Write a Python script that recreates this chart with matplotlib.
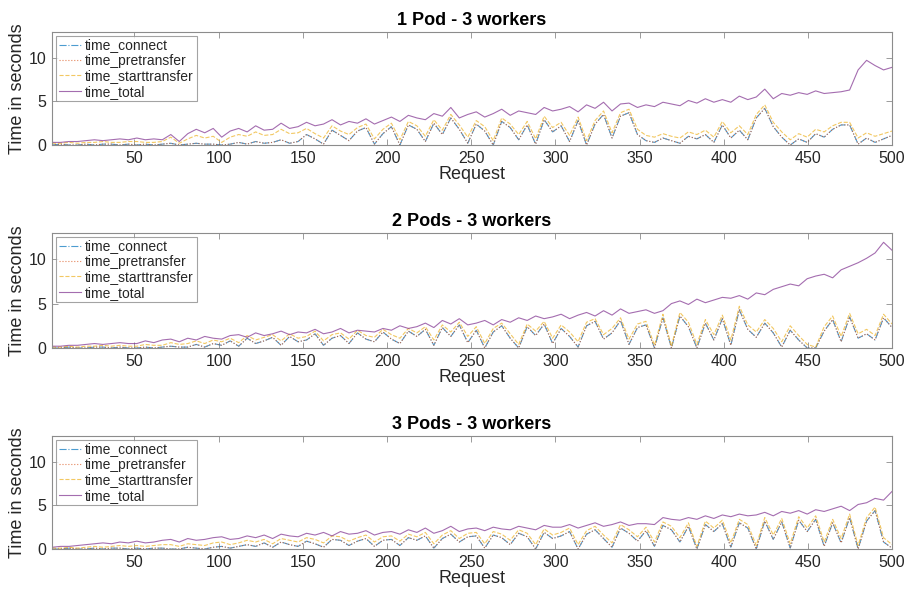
import numpy as np
import matplotlib
matplotlib.use("Agg")
import matplotlib.pyplot as plt

plt.rcParams["font.family"] = ["Liberation Sans", "DejaVu Sans"]

# request number of each sample (100 samples over 500 requests)
requests = np.linspace(1, 500, 100)

titles = ["1 Pod - 3 workers", "2 Pods - 3 workers", "3 Pods - 3 workers"]

# ---- 1 pod
time_total_1 = [
    0.3, 0.3, 0.4, 0.4, 0.5, 0.6, 0.5, 0.6, 0.7, 0.6,
    0.8, 0.6, 0.7, 0.6, 1.2, 0.4, 1.3, 1.8, 1.4, 1.9,
    0.9, 1.6, 1.9, 1.5, 2.2, 1.7, 1.8, 2.5, 1.9, 2.1,
    2.6, 2.2, 2.4, 2.9, 2.3, 2.7, 2.5, 3.0, 2.4, 2.8,
    3.2, 2.7, 3.4, 3.1, 2.9, 3.6, 3.3, 4.3, 3.1, 3.5,
    3.8, 3.2, 3.6, 4.1, 3.4, 3.9, 3.7, 3.5, 4.3, 3.9,
    4.1, 4.4, 3.8, 4.6, 4.2, 4.9, 3.9, 4.7, 4.8, 4.3,
    4.6, 4.4, 4.9, 4.7, 4.5, 5.1, 4.8, 5.3, 4.9, 5.2,
    4.9, 5.6, 5.2, 5.5, 6.4, 5.3, 5.9, 5.7, 6.0, 5.8,
    6.2, 5.9, 6.0, 6.1, 6.3, 8.6, 9.7, 9.1, 8.6, 8.9]
time_starttransfer_1 = [
    0.2, 0.2, 0.3, 0.2, 0.3, 0.3, 0.4, 0.3, 0.3, 0.4,
    0.4, 0.3, 0.3, 0.4, 0.9, 0.2, 0.7, 1.1, 0.8, 1.0,
    0.3, 0.9, 1.2, 1.0, 1.5, 1.1, 1.2, 1.8, 1.3, 1.4,
    1.9, 1.3, 0.8, 2.2, 1.6, 1.2, 2.0, 2.4, 0.7, 1.8,
    2.5, 0.6, 2.7, 2.2, 1.0, 2.9, 1.7, 3.5, 2.3, 0.9,
    2.8, 2.1, 0.5, 3.1, 2.4, 1.2, 2.7, 0.7, 3.3, 2.0,
    2.6, 1.1, 3.2, 0.5, 2.8, 3.9, 1.4, 3.7, 4.1, 1.8,
    1.1, 0.9, 1.3, 1.0, 0.8, 1.5, 1.2, 1.7, 0.9, 2.7,
    1.4, 2.2, 1.2, 3.5, 4.6, 2.6, 1.5, 0.6, 1.3, 0.9,
    1.8, 1.5, 2.2, 2.6, 2.6, 0.8, 1.4, 1.0, 1.3, 1.6]
time_connect_1 = [
    0.0, 0.1, 0.0, 0.0, 0.1, 0.0, 0.1, 0.1, 0.0, 0.1,
    0.0, 0.1, 0.0, 0.1, 0.2, 0.0, 0.1, 0.2, 0.1, 0.1,
    0.0, 0.1, 0.3, 0.1, 0.4, 0.2, 0.3, 0.6, 0.2, 0.4,
    1.2, 0.7, 0.1, 1.7, 1.1, 0.5, 1.6, 2.0, 0.1, 1.3,
    2.1, 0.0, 2.3, 1.8, 0.4, 2.5, 1.2, 3.1, 1.8, 0.2,
    2.4, 1.6, 0.0, 2.7, 2.0, 0.6, 2.3, 0.1, 2.9, 1.5,
    2.2, 0.4, 2.8, 0.0, 2.4, 3.5, 0.8, 3.3, 3.7, 1.2,
    0.5, 0.3, 0.8, 0.5, 0.2, 1.0, 0.7, 1.2, 0.3, 2.3,
    0.8, 1.7, 0.6, 3.1, 4.2, 2.1, 0.9, 0.0, 0.7, 0.3,
    1.3, 0.9, 1.8, 2.3, 2.3, 0.1, 0.8, 0.3, 0.7, 1.1]
time_pretransfer_1 = [
    0.0, 0.1, 0.0, 0.0, 0.1, 0.0, 0.1, 0.1, 0.0, 0.1,
    0.0, 0.1, 0.0, 0.1, 0.2, 0.0, 0.1, 0.2, 0.1, 0.1,
    0.0, 0.1, 0.3, 0.1, 0.4, 0.2, 0.3, 0.6, 0.2, 0.4,
    1.2, 0.7, 0.1, 1.7, 1.1, 0.5, 1.6, 2.0, 0.1, 1.3,
    2.1, 0.0, 2.3, 1.8, 0.4, 2.5, 1.2, 3.1, 1.8, 0.2,
    2.4, 1.6, 0.0, 2.7, 2.0, 0.6, 2.3, 0.1, 2.9, 1.5,
    2.2, 0.4, 2.8, 0.0, 2.4, 3.5, 0.8, 3.3, 3.7, 1.2,
    0.5, 0.3, 0.8, 0.5, 0.2, 1.0, 0.7, 1.2, 0.3, 2.3,
    0.8, 1.7, 0.6, 3.1, 4.2, 2.1, 0.9, 0.0, 0.7, 0.3,
    1.3, 0.9, 1.8, 2.3, 2.3, 0.1, 0.8, 0.3, 0.7, 1.1]

# ---- 2 pods
time_total_2 = [
    0.2, 0.2, 0.3, 0.3, 0.4, 0.5, 0.4, 0.5, 0.6, 0.5,
    0.5, 0.8, 0.6, 0.9, 1.0, 0.7, 1.1, 0.9, 1.3, 1.1,
    1.0, 1.4, 1.5, 1.2, 1.7, 1.4, 1.6, 1.9, 1.5, 1.8,
    1.7, 2.1, 1.6, 1.8, 2.2, 1.7, 2.0, 1.9, 1.8, 2.2,
    2.0, 2.5, 2.2, 2.4, 2.8, 2.3, 3.1, 2.7, 3.3, 2.6,
    2.8, 3.1, 2.6, 3.2, 2.9, 3.4, 3.1, 3.6, 3.3, 3.5,
    3.8, 3.3, 3.7, 4.0, 3.6, 4.2, 3.7, 4.4, 3.9, 4.1,
    4.3, 3.9, 4.2, 5.0, 5.3, 4.9, 5.5, 5.1, 5.4, 5.7,
    5.6, 5.9, 5.5, 6.2, 6.0, 6.6, 6.9, 7.2, 7.0, 7.8,
    8.1, 8.3, 7.9, 8.8, 9.2, 9.6, 10.1, 10.7, 11.9, 11.0]
time_starttransfer_2 = [
    0.1, 0.1, 0.2, 0.1, 0.2, 0.2, 0.3, 0.2, 0.3, 0.2,
    0.2, 0.4, 0.3, 0.3, 0.6, 0.4, 0.5, 0.8, 0.5, 0.9,
    0.7, 1.1, 0.6, 1.4, 0.9, 1.2, 1.5, 0.8, 1.6, 1.1,
    1.3, 1.9, 0.8, 1.5, 1.7, 1.0, 2.0, 1.4, 1.2, 2.1,
    1.5, 1.1, 2.2, 1.7, 2.4, 0.9, 2.6, 1.8, 2.9, 1.3,
    2.4, 0.5, 2.2, 2.8, 1.6, 0.4, 2.7, 1.9, 3.0, 1.1,
    2.6, 1.8, 0.7, 2.9, 3.3, 1.5, 2.2, 3.4, 1.0, 2.7,
    3.0, 0.3, 3.8, 0.2, 4.0, 2.9, 0.4, 3.2, 1.5, 3.7,
    0.9, 4.7, 2.6, 1.8, 3.2, 2.2, 0.7, 2.5, 1.4, 0.4,
    0.1, 2.4, 3.6, 1.3, 3.9, 1.6, 2.1, 1.4, 3.8, 2.7]
time_connect_2 = [
    0.0, 0.0, 0.1, 0.0, 0.0, 0.1, 0.1, 0.0, 0.1, 0.0,
    0.0, 0.1, 0.0, 0.1, 0.2, 0.1, 0.1, 0.4, 0.1, 0.5,
    0.3, 0.8, 0.2, 1.1, 0.5, 0.8, 1.2, 0.3, 1.3, 0.7,
    0.9, 1.6, 0.3, 1.1, 1.4, 0.5, 1.7, 1.0, 0.7, 1.8,
    1.0, 0.5, 1.9, 1.3, 2.1, 0.3, 2.3, 1.3, 2.6, 0.6,
    2.0, 0.0, 1.8, 2.5, 1.1, 0.0, 2.4, 1.4, 2.7, 0.5,
    2.2, 1.3, 0.1, 2.5, 3.0, 1.0, 1.7, 3.1, 0.4, 2.3,
    2.6, 0.0, 3.4, 0.0, 3.6, 2.4, 0.0, 2.8, 0.9, 3.3,
    0.3, 4.3, 2.1, 1.2, 2.8, 1.7, 0.1, 2.0, 0.9, 0.0,
    0.0, 1.9, 3.2, 0.7, 3.5, 1.1, 1.6, 0.9, 3.4, 2.3]
time_pretransfer_2 = [
    0.0, 0.0, 0.1, 0.0, 0.0, 0.1, 0.1, 0.0, 0.1, 0.0,
    0.0, 0.1, 0.0, 0.1, 0.2, 0.1, 0.1, 0.4, 0.1, 0.5,
    0.3, 0.8, 0.2, 1.1, 0.5, 0.8, 1.2, 0.3, 1.3, 0.7,
    0.9, 1.6, 0.3, 1.1, 1.4, 0.5, 1.7, 1.0, 0.7, 1.8,
    1.0, 0.5, 1.9, 1.3, 2.1, 0.3, 2.3, 1.3, 2.6, 0.6,
    2.0, 0.0, 1.8, 2.5, 1.1, 0.0, 2.4, 1.4, 2.7, 0.5,
    2.2, 1.3, 0.1, 2.5, 3.0, 1.0, 1.7, 3.1, 0.4, 2.3,
    2.6, 0.0, 3.4, 0.0, 3.6, 2.4, 0.0, 2.8, 0.9, 3.3,
    0.3, 4.3, 2.1, 1.2, 2.8, 1.7, 0.1, 2.0, 0.9, 0.0,
    0.0, 1.9, 3.2, 0.7, 3.5, 1.1, 1.6, 0.9, 3.4, 2.3]

# ---- 3 pods
time_total_3 = [
    0.2, 0.3, 0.3, 0.4, 0.5, 0.6, 0.7, 0.6, 0.8, 0.7,
    0.9, 0.7, 0.8, 1.0, 1.1, 0.8, 1.2, 1.0, 1.1, 1.3,
    1.4, 1.1, 1.2, 1.5, 1.3, 1.6, 1.2, 1.7, 1.5, 1.4,
    1.8, 1.6, 1.9, 1.5, 2.0, 1.7, 1.8, 2.1, 1.6, 1.9,
    2.0, 1.7, 2.2, 1.9, 2.4, 1.8, 2.1, 2.6, 2.0, 2.3,
    2.4, 2.1, 2.5, 2.3, 2.2, 2.6, 2.4, 2.2, 2.7, 2.5,
    2.5, 2.8, 2.4, 2.7, 3.0, 2.6, 2.8, 3.1, 2.7, 2.9,
    2.9, 2.8, 3.6, 3.4, 3.3, 3.6, 3.4, 3.8, 3.5, 3.9,
    3.7, 4.0, 3.8, 3.9, 4.2, 3.8, 4.3, 4.1, 4.4, 4.0,
    4.5, 4.3, 4.6, 4.9, 4.4, 5.1, 5.3, 5.8, 5.6, 6.6]
time_starttransfer_3 = [
    0.1, 0.1, 0.2, 0.1, 0.2, 0.3, 0.2, 0.3, 0.4, 0.3,
    0.4, 0.3, 0.4, 0.5, 0.5, 0.3, 0.6, 0.5, 0.4, 0.7,
    0.8, 0.5, 0.7, 1.0, 0.8, 1.1, 0.6, 1.2, 1.0, 0.8,
    1.3, 1.1, 0.7, 1.5, 1.4, 0.9, 1.3, 1.6, 0.8, 1.4,
    1.5, 0.9, 1.7, 1.4, 1.9, 0.6, 1.6, 2.1, 1.2, 1.8,
    1.9, 0.6, 2.0, 1.7, 1.0, 2.2, 1.8, 0.5, 2.3, 1.6,
    1.9, 2.4, 0.5, 2.1, 2.6, 1.6, 0.7, 2.8, 2.2, 1.4,
    2.5, 0.8, 3.1, 2.6, 1.3, 3.0, 0.3, 3.2, 2.4, 3.3,
    0.7, 3.4, 2.8, 0.4, 3.6, 1.6, 3.5, 0.6, 3.7, 2.4,
    3.8, 0.8, 3.4, 1.2, 4.0, 0.4, 3.6, 4.8, 1.3, 0.5]
time_connect_3 = [
    0.0, 0.0, 0.1, 0.0, 0.0, 0.1, 0.0, 0.1, 0.1, 0.0,
    0.1, 0.0, 0.1, 0.1, 0.0, 0.0, 0.2, 0.1, 0.0, 0.2,
    0.3, 0.1, 0.3, 0.5, 0.3, 0.7, 0.2, 0.8, 0.5, 0.3,
    0.9, 0.6, 0.2, 1.1, 1.0, 0.4, 0.9, 1.2, 0.3, 1.0,
    1.1, 0.4, 1.3, 1.0, 1.5, 0.1, 1.2, 1.7, 0.8, 1.4,
    1.5, 0.1, 1.6, 1.3, 0.5, 1.8, 1.4, 0.0, 1.9, 1.2,
    1.5, 2.0, 0.0, 1.7, 2.2, 1.2, 0.2, 2.4, 1.8, 0.9,
    2.1, 0.3, 2.7, 2.2, 0.8, 2.6, 0.0, 2.8, 2.0, 2.9,
    0.2, 3.0, 2.4, 0.0, 3.2, 1.1, 3.1, 0.1, 3.3, 2.0,
    3.4, 0.3, 3.0, 0.7, 3.6, 0.0, 3.2, 4.4, 0.8, 0.1]
time_pretransfer_3 = [
    0.0, 0.0, 0.1, 0.0, 0.0, 0.1, 0.0, 0.1, 0.1, 0.0,
    0.1, 0.0, 0.1, 0.1, 0.0, 0.0, 0.2, 0.1, 0.0, 0.2,
    0.3, 0.1, 0.3, 0.5, 0.3, 0.7, 0.2, 0.8, 0.5, 0.3,
    0.9, 0.6, 0.2, 1.1, 1.0, 0.4, 0.9, 1.2, 0.3, 1.0,
    1.1, 0.4, 1.3, 1.0, 1.5, 0.1, 1.2, 1.7, 0.8, 1.4,
    1.5, 0.1, 1.6, 1.3, 0.5, 1.8, 1.4, 0.0, 1.9, 1.2,
    1.5, 2.0, 0.0, 1.7, 2.2, 1.2, 0.2, 2.4, 1.8, 0.9,
    2.1, 0.3, 2.7, 2.2, 0.8, 2.6, 0.0, 2.8, 2.0, 2.9,
    0.2, 3.0, 2.4, 0.0, 3.2, 1.1, 3.1, 0.1, 3.3, 2.0,
    3.4, 0.3, 3.0, 0.7, 3.6, 0.0, 3.2, 4.4, 0.8, 0.1]

panels = [
    (time_connect_1, time_pretransfer_1, time_starttransfer_1, time_total_1),
    (time_connect_2, time_pretransfer_2, time_starttransfer_2, time_total_2),
    (time_connect_3, time_pretransfer_3, time_starttransfer_3, time_total_3),
]

names = ["time_connect", "time_pretransfer", "time_starttransfer", "time_total"]
colors = ["#0072bd", "#d95319", "#edb120", "#7e2f8e"]
styles = ["-.", ":", "--", "-"]

fig = plt.figure(figsize=(9.06, 5.89), dpi=100)

boxes = [[0.0574, 0.7538, 0.9272, 0.1927],
         [0.0574, 0.4092, 0.9272, 0.1960],
         [0.0574, 0.0679, 0.9272, 0.1927]]

axcol = "#8c8c8c"
txtcol = "#262626"

for box, title, series in zip(boxes, titles, panels):
    ax = fig.add_axes(box)
    for vals, name, c, ls in zip(series, names, colors, styles):
        ax.plot(requests, vals, ls, color=c, lw=0.8, alpha=0.7, label=name)
    ax.set_xlim(1, 500)
    ax.set_ylim(0, 13)
    ax.set_xticks([50, 100, 150, 200, 250, 300, 350, 400, 450, 500])
    ax.set_yticks([0, 5, 10])
    ax.tick_params(direction="in", length=4, width=0.6, top=True, right=True,
                   color=axcol, labelcolor=txtcol, labelsize=11.5, pad=4)
    for sp in ax.spines.values():
        sp.set_color(axcol)
        sp.set_linewidth(0.8)
    ax.set_title(title, fontsize=13, fontweight="bold", color="black", pad=5)
    ax.set_xlabel("Request", fontsize=13, color=txtcol, labelpad=0)
    ax.set_ylabel("Time in seconds", fontsize=13, color=txtcol, labelpad=2)
    leg = ax.legend(loc="upper left", fontsize=10, frameon=True, fancybox=False,
                    handlelength=1.6, handletextpad=0.3, borderpad=0.2,
                    labelspacing=0.1, borderaxespad=0.3)
    leg.get_frame().set_edgecolor(axcol)
    leg.get_frame().set_linewidth(0.8)
    for t in leg.get_texts():
        t.set_color(txtcol)

fig.savefig("out.png", dpi=100)
